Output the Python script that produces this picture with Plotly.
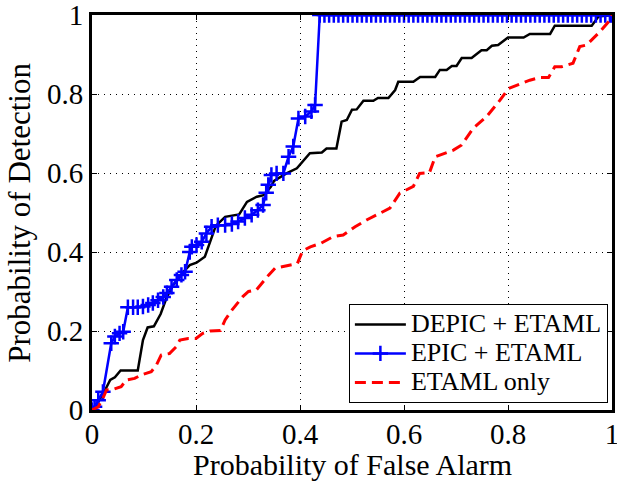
import plotly.graph_objects as go

# DEPIC + ETAML (black solid)
depic_x = [0, 0.012, 0.025, 0.035, 0.044, 0.055, 0.088, 0.098, 0.107, 0.119, 0.132, 0.143, 0.156, 0.176,
           0.188, 0.201, 0.217, 0.23, 0.238, 0.256, 0.283, 0.298, 0.317, 0.33, 0.344, 0.35, 0.374, 0.394,
           0.419, 0.442, 0.451, 0.47, 0.48, 0.49, 0.5, 0.509, 0.522, 0.541, 0.55, 0.57, 0.583, 0.589,
           0.618, 0.631, 0.66, 0.669, 0.682, 0.692, 0.701, 0.711, 0.73, 0.749, 0.759, 0.769, 0.781, 0.8,
           0.83, 0.842, 0.881, 0.89, 0.961, 0.974, 1.0]
depic_y = [0, 0.02, 0.05, 0.076, 0.083, 0.1, 0.1, 0.177, 0.209, 0.212, 0.243, 0.283, 0.316, 0.35,
           0.367, 0.373, 0.388, 0.44, 0.466, 0.489, 0.495, 0.527, 0.54, 0.544, 0.565, 0.58, 0.599, 0.612,
           0.65, 0.652, 0.662, 0.662, 0.73, 0.734, 0.76, 0.761, 0.783, 0.783, 0.79, 0.79, 0.81, 0.831,
           0.831, 0.843, 0.843, 0.861, 0.861, 0.871, 0.871, 0.891, 0.891, 0.911, 0.911, 0.922, 0.924, 0.943,
           0.943, 0.952, 0.952, 0.973, 0.973, 0.996, 1.0]

# EPIC + ETAML (blue with + markers)
epic_x = [0, 0.005, 0.012, 0.021, 0.037, 0.044, 0.053, 0.06, 0.069, 0.079, 0.088, 0.098, 0.108, 0.117,
          0.127, 0.137, 0.144, 0.153, 0.163, 0.172, 0.179, 0.188, 0.192, 0.201, 0.211, 0.22, 0.23, 0.242,
          0.256, 0.269, 0.281, 0.294, 0.307, 0.319, 0.329, 0.335, 0.339, 0.345, 0.355, 0.368, 0.378, 0.387,
          0.397, 0.41, 0.422, 0.429, 0.438,
          0.447, 0.456, 0.465, 0.474, 0.483, 0.492, 0.501, 0.510, 0.519, 0.528, 0.537, 0.546, 0.555, 0.564,
          0.573, 0.582, 0.591, 0.600, 0.609, 0.618, 0.627, 0.636, 0.645, 0.654, 0.663, 0.672, 0.681, 0.690,
          0.699, 0.708, 0.717, 0.726, 0.735, 0.744, 0.753, 0.762, 0.771, 0.780, 0.789, 0.798, 0.807, 0.816,
          0.825, 0.834, 0.843, 0.852, 0.861, 0.870, 0.879, 0.888, 0.897, 0.906, 0.915, 0.924, 0.933, 0.942,
          0.951, 0.960, 0.969, 0.978, 0.987, 0.996, 1.0]
epic_y = [0, 0.008, 0.025, 0.046, 0.169, 0.186, 0.194, 0.198, 0.26, 0.26, 0.26, 0.262, 0.266, 0.271,
          0.278, 0.286, 0.296, 0.312, 0.329, 0.342, 0.35, 0.4, 0.413, 0.418, 0.426, 0.447, 0.464, 0.468,
          0.468, 0.471, 0.477, 0.486, 0.494, 0.506, 0.519, 0.55, 0.57, 0.595, 0.599, 0.599, 0.641, 0.667,
          0.738, 0.743, 0.756, 0.772, 1.0,
          1, 1, 1, 1, 1, 1, 1, 1, 1, 1, 1, 1, 1, 1,
          1, 1, 1, 1, 1, 1, 1, 1, 1, 1, 1, 1, 1, 1,
          1, 1, 1, 1, 1, 1, 1, 1, 1, 1, 1, 1, 1, 1,
          1, 1, 1, 1, 1, 1, 1, 1, 1, 1, 1, 1, 1, 1,
          1, 1, 1, 1, 1, 1, 1]

# ETAML only (red dashed)
etaml_x = [0, 0.012, 0.021, 0.028, 0.04, 0.056, 0.066, 0.082, 0.095, 0.114, 0.124, 0.133, 0.149, 0.162,
           0.169, 0.185, 0.2, 0.213, 0.227, 0.247, 0.256, 0.269, 0.29, 0.301, 0.316, 0.326, 0.34, 0.352,
           0.368, 0.395, 0.405, 0.42, 0.44, 0.464, 0.483, 0.506, 0.528, 0.554, 0.573, 0.592, 0.605, 0.618,
           0.63, 0.649, 0.66, 0.682, 0.695, 0.711, 0.733, 0.759, 0.785, 0.801, 0.817, 0.842, 0.862, 0.878,
           0.89, 0.903, 0.925, 0.938, 0.951, 0.964, 0.977, 0.996, 1.0]
etaml_y = [0, 0.008, 0.03, 0.051, 0.052, 0.059, 0.076, 0.08, 0.089, 0.097, 0.114, 0.139, 0.143, 0.16,
           0.177, 0.181, 0.181, 0.194, 0.2, 0.201, 0.228, 0.253, 0.287, 0.3, 0.304, 0.321, 0.342, 0.359,
           0.363, 0.371, 0.403, 0.413, 0.422, 0.439, 0.443, 0.464, 0.481, 0.498, 0.511, 0.549, 0.557, 0.566,
           0.599, 0.601, 0.641, 0.652, 0.658, 0.671, 0.713, 0.743, 0.785, 0.814, 0.823, 0.835, 0.842, 0.842,
           0.869, 0.869, 0.878, 0.92, 0.924, 0.941, 0.958, 0.987, 1.0]

series_names = ["DEPIC + ETAML", "EPIC + ETAML", "ETAML only"]
tick_vals = [0, 0.2, 0.4, 0.6, 0.8, 1]
tick_text = ["0", "0.2", "0.4", "0.6", "0.8", "1"]
x_title = "Probability of False Alarm"
y_title = "Probability of Detection"

FONT = "Liberation Serif"


def leg(name):
    return '<span style="font-size:26px">' + name + '</span>'


fig = go.Figure()
fig.add_trace(go.Scatter(x=depic_x, y=depic_y, mode="lines", name=leg(series_names[0]),
                         line=dict(color="black", width=2.5)))
fig.add_trace(go.Scatter(x=epic_x, y=epic_y, mode="lines+markers", name=leg(series_names[1]),
                         line=dict(color="#0000ff", width=2.5),
                         marker=dict(symbol="cross-thin", size=11, color="#0000ff",
                                     line=dict(color="#0000ff", width=2.5))))
fig.add_trace(go.Scatter(x=etaml_x, y=etaml_y, mode="lines", name=leg(series_names[2]),
                         line=dict(color="#ff0000", width=3, dash="11px,6px")))

axis_common = dict(
    range=[0, 1], tickvals=tick_vals, ticktext=tick_text,
    showline=True, linecolor="black", linewidth=3, mirror="ticks",
    ticks="inside", ticklen=5, tickwidth=1, tickcolor="black",
    showgrid=True, gridcolor="black", gridwidth=1, griddash="1px,5px",
    zeroline=False, tickfont=dict(family=FONT, size=29, color="black"),
    ticklabeloverflow="allow",
)

fig.update_xaxes(**axis_common, ticklabelstandoff=-4)
fig.update_yaxes(**axis_common)

fig.add_annotation(text=x_title, xref="paper", yref="paper", x=0.5, y=-0.139,
                   xanchor="center", yanchor="middle", showarrow=False,
                   font=dict(family=FONT, size=30, color="black"))
fig.add_annotation(text=y_title, xref="paper", yref="paper", x=-0.14, y=0.5,
                   xanchor="center", yanchor="middle", showarrow=False, textangle=-90,
                   font=dict(family=FONT, size=31, color="black"))

fig.update_layout(
    width=617, height=482,
    margin=dict(l=92, r=5, t=15, b=72, autoexpand=False),
    paper_bgcolor="white", plot_bgcolor="white",
    showlegend=True,
    legend=dict(x=0.494, y=0.018, xanchor="left", yanchor="bottom",
                bgcolor="white", bordercolor="black", borderwidth=1,
                font=dict(family=FONT, size=20, color="black"),
                tracegroupgap=0, itemwidth=51),
)

fig.write_html("out.html")
